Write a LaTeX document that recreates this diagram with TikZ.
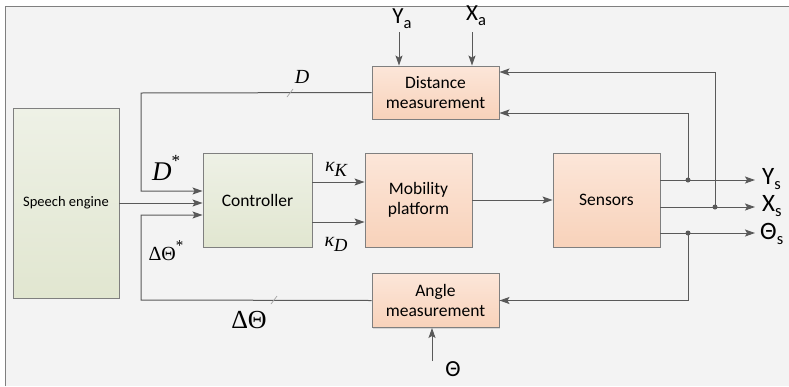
\documentclass[tikz,border=0pt]{standalone}
\usepackage{fontspec}
\setmainfont{Carlito}
\newfontfamily\tms{Liberation Serif}
\usetikzlibrary{arrows.meta,shadows}

\definecolor{wire}{HTML}{595959}
\definecolor{edge}{HTML}{7F7F7F}
\definecolor{paper}{HTML}{F3F3F3}
\definecolor{greentop}{HTML}{EEF1E6}
\definecolor{greenbot}{HTML}{E1E6D0}
\definecolor{peachtop}{HTML}{FCE6D9}
\definecolor{peachbot}{HTML}{F8D2BA}

% lowered subscript in the current font
\newcommand\lowsub[2]{#1\raisebox{-0.45ex}{\fontsize{16.5}{16.5}\selectfont #2}}
% kappa with a lowered italic index
\newcommand\kappaidx[1]{κ\raisebox{-5pt}{\fontsize{18.5}{18.5}\selectfont #1}}

\tikzset{
  block/.style={draw=edge, line width=0.9pt, align=center, inner sep=2pt,
    font=\fontsize{17.5}{20}\selectfont,
    drop shadow={shadow xshift=1.2pt, shadow yshift=-1.2pt, opacity=0.25}},
  greenblock/.style={block, top color=greentop, bottom color=greenbot},
  peachblock/.style={block, top color=peachtop, bottom color=peachbot},
  wireline/.style={draw=wire, line width=1pt},
  arr/.style={wireline, -{Stealth[length=10pt,width=7pt,inset=2pt]}},
  junction/.style={circle, fill=wire, inner sep=0pt, minimum size=5pt},
  tick/.style={draw=edge!70, line width=0.7pt},
  sanslabel/.style={font=\fontsize{25}{25}\selectfont, inner sep=0pt},
  mathlabel/.style={inner sep=0pt, text=black}
}

\begin{document}
\begin{tikzpicture}[x=1pt,y=-1pt]
\useasboundingbox (0,0) rectangle (789,386);
\fill[white] (0,0) rectangle (789,386);
\fill[paper] (5,6) rectangle (789,386);
\draw[edge, line width=0.9pt] (5,386) -- (5,6) -- (789,6);

% blocks
\node[greenblock, minimum width=106pt, minimum height=190pt,
      font=\fontsize{14.5}{16}\selectfont] (speech) at (66,203) {Speech engine};
\node[greenblock, minimum width=109pt, minimum height=94pt] (ctrl) at (257.5,200) {Controller};
\node[peachblock, minimum width=107pt, minimum height=94pt] (mob) at (418.5,200) {Mobility\\platform};
\node[peachblock, minimum width=107pt, minimum height=94pt] (sens) at (606.5,200) {Sensors};
\node[peachblock, minimum width=127pt, minimum height=53pt] (dist) at (435.5,92.5) {Distance\\measurement};
\node[peachblock, minimum width=127pt, minimum height=54pt] (angle) at (435.5,300.5) {Angle\\measurement};

% routing points
\coordinate (dturn) at (141,93);
\coordinate (aturn) at (141,300);
\coordinate (dinto) at ([yshift=9pt]ctrl.west);
\coordinate (ainto) at ([yshift=-15pt]ctrl.west);
\coordinate (kkout) at ([yshift=18pt]ctrl.east);
\coordinate (kdout) at ([yshift=-22pt]ctrl.east);
\coordinate (ysout) at ([yshift=20pt]sens.east);
\coordinate (xsout) at ([yshift=-7pt]sens.east);
\coordinate (tsout) at ([yshift=-33pt]sens.east);
\coordinate (yend) at (755,180);
\coordinate (xend) at (755,207);
\coordinate (tend) at (755,233);
\node[junction] (yj) at (688,180) {};
\node[junction] (xj) at (715,207) {};
\node[junction] (tj) at (688,233) {};
\coordinate (dtop) at ([yshift=20.5pt]dist.east);
\coordinate (dlow) at ([yshift=-20.5pt]dist.east);

% feedback into the controller
\draw[arr] (dist.west) -- (dturn) |- (dinto);
\draw[arr] (angle.west) -- (aturn) |- (ainto);
\draw[arr] (speech.east) -- (speech.east -| ctrl.west);

% controller outputs
\draw[arr] (kkout) -- (kkout -| mob.west);
\draw[arr] (kdout) -- (kdout -| mob.west);
\draw[arr] (mob.east) -- (mob.east -| sens.west);

% sensor outputs
\draw[arr] (ysout) -- (yend);
\draw[arr] (xsout) -- (xend);
\draw[arr] (tsout) -- (tend);
\draw[arr] (yj.center) |- (dlow);
\draw[arr] (xj.center) |- (dtop);
\draw[arr] (tj.center) |- (angle.east);

% external inputs
\coordinate (yain) at (399,32);
\coordinate (xain) at (472,32);
\coordinate (thin) at (432,361);
\draw[arr] (yain) -- (yain |- dist.north);
\draw[arr] (xain) -- (xain |- dist.north);
\draw[arr] (thin) -- (thin |- angle.south);

% bus ticks
\draw[tick] (287,97) -- (293,89);
\draw[tick] (271,304) -- (277,296);

% labels
\node[sanslabel, font=\fontsize{23}{23}\selectfont] (ya) at (402,19) {\lowsub{Y}{a}};
\node[sanslabel, font=\fontsize{23}{23}\selectfont] (xa) at (476,16) {\lowsub{X}{a}};
\node[sanslabel, font=\fontsize{23}{23}\selectfont] (th) at (453,369) {Θ};
\node[sanslabel, anchor=west] (ys) at (762,179) {\lowsub{Y}{s}};
\node[sanslabel, anchor=west] (xs) at (762,206) {\lowsub{X}{s}};
\node[sanslabel, anchor=west] (ts) at (760,234) {\lowsub{Θ}{s}};

\node[mathlabel, font=\tms\itshape\fontsize{20}{20}\selectfont] (dlab) at (302,77) {D};
\node[mathlabel, font=\tms\fontsize{27}{27}\selectfont] (dstar) at (166,168) {\textit{D}\raisebox{1.1ex}{\fontsize{17}{17}\selectfont *}};
\node[mathlabel, font=\tms\fontsize{20}{20}\selectfont] (tstar) at (166,251) {ΔΘ\raisebox{1.1ex}{\fontsize{15}{15}\selectfont *}};
\node[mathlabel, font=\tms\fontsize{26}{26}\selectfont] (tlab) at (249,320) {ΔΘ};
\node[mathlabel, font=\tms\itshape\fontsize{20}{20}\selectfont] (kk) at (336,169) {\kappaidx{K}};
\node[mathlabel, font=\tms\itshape\fontsize{20}{20}\selectfont] (kd) at (336,244) {\kappaidx{D}};
\end{tikzpicture}
\end{document}
